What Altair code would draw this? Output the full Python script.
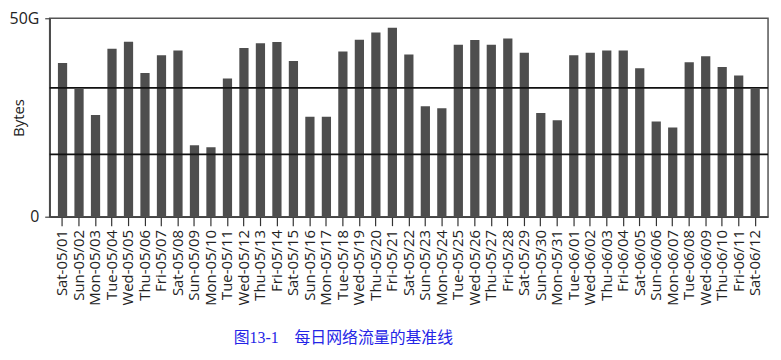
import altair as alt
import pandas as pd

days = ["Sat-05/01", "Sun-05/02", "Mon-05/03", "Tue-05/04", "Wed-05/05", "Thu-05/06", "Fri-05/07",
        "Sat-05/08", "Sun-05/09", "Mon-05/10", "Tue-05/11", "Wed-05/12", "Thu-05/13", "Fri-05/14",
        "Sat-05/15", "Sun-05/16", "Mon-05/17", "Tue-05/18", "Wed-05/19", "Thu-05/20", "Fri-05/21",
        "Sat-05/22", "Sun-05/23", "Mon-05/24", "Tue-05/25", "Wed-05/26", "Thu-05/27", "Fri-05/28",
        "Sat-05/29", "Sun-05/30", "Mon-05/31", "Tue-06/01", "Wed-06/02", "Thu-06/03", "Fri-06/04",
        "Sat-06/05", "Sun-06/06", "Mon-06/07", "Tue-06/08", "Wed-06/09", "Thu-06/10", "Fri-06/11",
        "Sat-06/12"]
traffic_g = [38.7, 32.2, 25.6, 42.3, 44.1, 36.2, 40.7, 41.9, 18.0, 17.5, 34.8, 42.5, 43.7, 44.0,
             39.2, 25.2, 25.2, 41.6, 44.6, 46.4, 47.6, 40.9, 27.8, 27.3, 43.3, 44.5, 43.3, 44.9,
             41.3, 26.1, 24.3, 40.7, 41.3, 41.9, 41.9, 37.4, 24.0, 22.5, 38.9, 40.4, 37.7, 35.6,
             32.2]
baselines = [32.45, 15.7]
caption = "图13-1\u3000每日网络流量的基准线"

df = pd.DataFrame({"day": days, "bytes": traffic_g})
bl = pd.DataFrame({"v": baselines})

sans = "Open Sans"

bars = alt.Chart(df).mark_bar(color="#4e4e4e").encode(
    x=alt.X("day:N", sort=days,
            scale=alt.Scale(paddingInner=0.44, paddingOuter=0.5),
            axis=alt.Axis(title=None, labelAngle=-90, labelFont=sans, labelFontSize=15,
                          labelColor="#222", tickColor="#333", tickSize=9, tickWidth=1.2,
                          domainColor="#444", domainWidth=1.5, labelPadding=4)),
    y=alt.Y("bytes:Q", scale=alt.Scale(domain=[0, 50], nice=False),
            axis=alt.Axis(title="Bytes", values=[0, 50], grid=False,
                          labelExpr="datum.value == 50 ? '50G' : '0'",
                          labelFont=sans, labelFontSize=16, labelColor="#222", labelPadding=6,
                          titleFont=sans, titleFontSize=15, titleFontWeight="normal",
                          titleColor="#222", titleX=-23, titleBaseline="bottom",
                          tickColor="#444", tickSize=5, tickWidth=1.2,
                          domainColor="#444", domainWidth=1.5)),
)

rules = alt.Chart(bl).mark_rule(color="#111", strokeWidth=1.6).encode(y="v:Q")

cap = alt.Chart(pd.DataFrame({"t": [caption]})).mark_text(
    font="Liberation Serif, Noto Sans CJK SC", fontSize=16, color="#2424e6",
    align="center", baseline="middle"
).encode(text="t:N", x=alt.value(296), y=alt.value(322))

chart = alt.layer(bars, rules, cap).properties(
    width=724, height=200,
    autosize=alt.AutoSizeParams(type="none"),
    padding={"left": 42, "top": 9, "right": 5, "bottom": 133},
).configure_view(stroke="#555", strokeWidth=1.5)

chart.save("out.html", embed_options={"renderer": "svg", "actions": False})
